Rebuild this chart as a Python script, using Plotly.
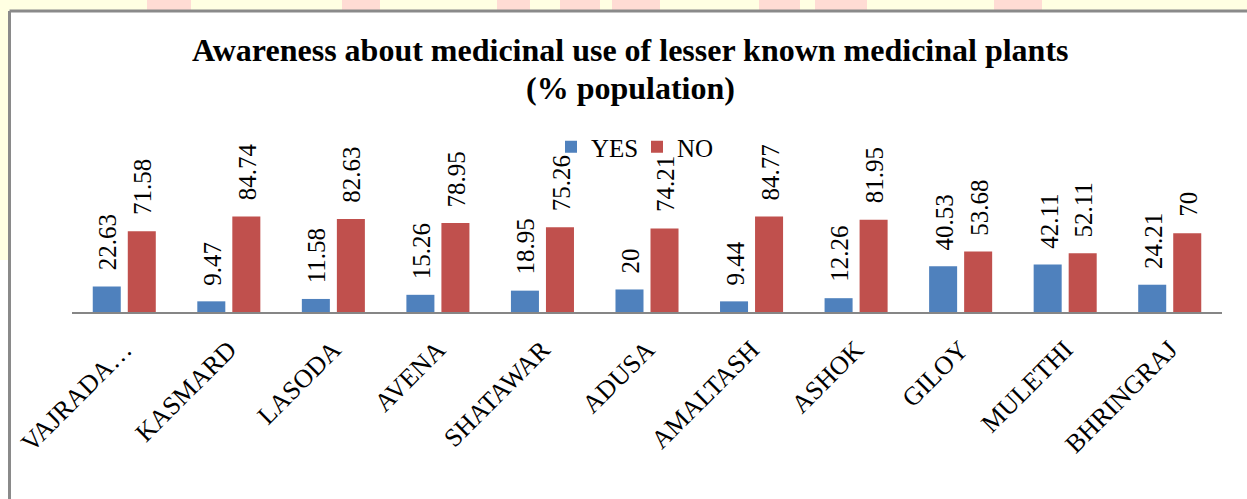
import plotly.graph_objects as go

categories = ["VAJRADA…", "KASMARD", "LASODA", "AVENA", "SHATAWAR", "ADUSA",
              "AMALTASH", "ASHOK", "GILOY", "MULETHI", "BHRINGRAJ"]
yes_vals = [22.63, 9.47, 11.58, 15.26, 18.95, 20, 9.44, 12.26, 40.53, 42.11, 24.21]
no_vals = [71.58, 84.74, 82.63, 78.95, 75.26, 74.21, 84.77, 81.95, 53.68, 52.11, 70]
yes_labels = ["22.63", "9.47", "11.58", "15.26", "18.95", "20", "9.44", "12.26", "40.53", "42.11", "24.21"]
no_labels = ["71.58", "84.74", "82.63", "78.95", "75.26", "74.21", "84.77", "81.95", "53.68", "52.11", "70"]

BLUE = "#4F81BD"
RED = "#C0504D"
FONT = "Liberation Serif"

W, H = 1247, 499
L, R, T, B = 72, 25, 143, 187
PW = W - L - R
PH = H - T - B


def px_x(p):
    return (p - L) / PW


def px_y(p):
    return (H - B - p) / PH


fig = go.Figure()
fig.add_trace(go.Bar(name="YES", x=categories, y=yes_vals, marker_color=BLUE,
                     marker_line_width=0))
fig.add_trace(go.Bar(name="NO", x=categories, y=no_vals, marker_color=RED,
                     marker_line_width=0))

annotations = []
for c, v, t in zip(categories, yes_vals, yes_labels):
    annotations.append(dict(x=c, y=v, text=t, xref="x", yref="y", showarrow=False,
                            textangle=-90, xanchor="center", yanchor="bottom",
                            xshift=-16.5, yshift=14,
                            font=dict(family=FONT, size=25, color="black")))
for c, v, t in zip(categories, no_vals, no_labels):
    annotations.append(dict(x=c, y=v, text=t, xref="x", yref="y", showarrow=False,
                            textangle=-90, xanchor="center", yanchor="bottom",
                            xshift=18.5, yshift=14,
                            font=dict(family=FONT, size=25, color="black")))

# title lines
annotations.append(dict(x=px_x(630), y=px_y(50), xref="paper", yref="paper", showarrow=False,
                        xanchor="center", yanchor="middle",
                        text="<b>Awareness about medicinal use of lesser known medicinal plants</b>",
                        font=dict(family=FONT, size=32, color="black")))
annotations.append(dict(x=px_x(630), y=px_y(88), xref="paper", yref="paper", showarrow=False,
                        xanchor="center", yanchor="middle",
                        text="<b>(% population)</b>",
                        font=dict(family=FONT, size=32, color="black")))

shapes = []
# outer page background strips
shapes.append(dict(type="rect", xref="paper", yref="paper", x0=px_x(0), x1=px_x(W),
                   y0=px_y(10), y1=px_y(0), fillcolor="#FFFFE2", line_width=0, layer="below"))
shapes.append(dict(type="rect", xref="paper", yref="paper", x0=px_x(0), x1=px_x(9),
                   y0=px_y(260), y1=px_y(0), fillcolor="#FFFFE2", line_width=0, layer="below"))
for a, b in [(147, 191), (342, 380), (497, 530), (560, 600), (612, 660), (759, 800), (815, 867), (994, 1042)]:
    shapes.append(dict(type="rect", xref="paper", yref="paper", x0=px_x(a), x1=px_x(b),
                       y0=px_y(10), y1=px_y(0), fillcolor="#FFDCD4", line_width=0, layer="below"))
# chart frame
shapes.append(dict(type="line", xref="paper", yref="paper", x0=px_x(9.5), x1=px_x(W + 5),
                   y0=px_y(11), y1=px_y(11), line=dict(color="#8A8A8A", width=3)))
shapes.append(dict(type="line", xref="paper", yref="paper", x0=px_x(9.5), x1=px_x(9.5),
                   y0=px_y(11), y1=px_y(H + 5), line=dict(color="#8A8A8A", width=3)))

fig.update_layout(
    width=W, height=H,
    margin=dict(l=L, r=R, t=T, b=B),
    paper_bgcolor="white", plot_bgcolor="white",
    barmode="group", bargap=0.33, bargroupgap=0.2,
    legend=dict(orientation="h", x=px_x(637), xanchor="center", y=px_y(147), yanchor="middle",
                font=dict(family=FONT, size=25, color="black"), bgcolor="rgba(0,0,0,0)",
                itemwidth=30, traceorder="normal", entrywidth=41, entrywidthmode="pixels"),
    xaxis=dict(showline=True, linecolor="#868686", linewidth=2, ticks="", tickangle=-45,
               ticklabelstandoff=10,
               tickfont=dict(family=FONT, size=26, color="black"), showgrid=False),
    yaxis=dict(range=[0, 150], visible=False, showgrid=False),
    annotations=annotations,
    shapes=shapes,
)

fig.write_html("out.html", config={"displayModeBar": False},
               post_script="document.body.style.margin='0';document.body.style.padding='0';")
